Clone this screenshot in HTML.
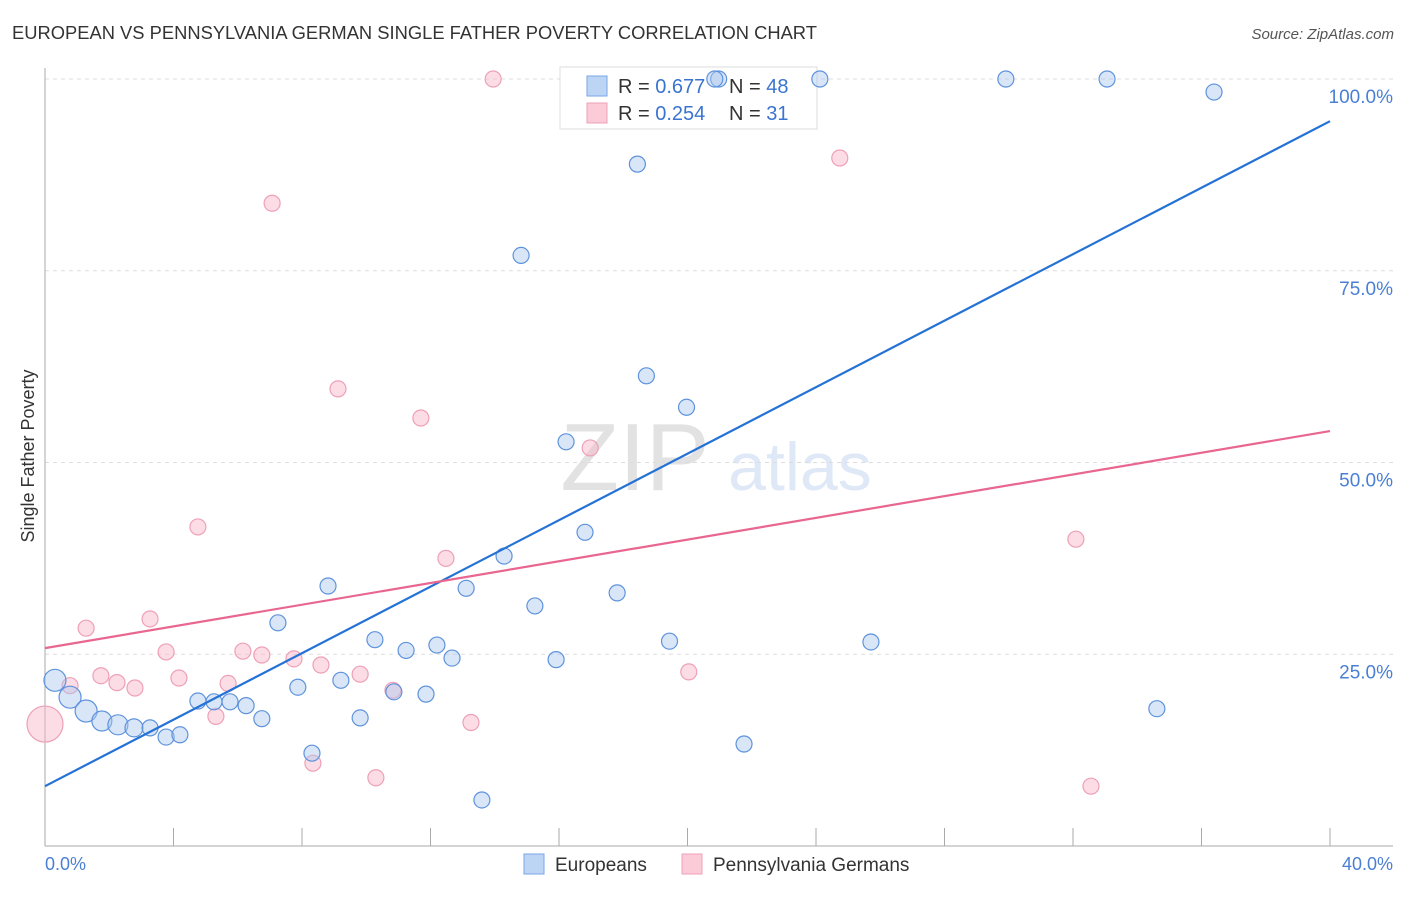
<!DOCTYPE html>
<html><head><meta charset="utf-8"><style>
body{margin:0;background:#fff;font-family:"Liberation Sans",sans-serif}
svg text{font-family:"Liberation Sans",sans-serif}
</style></head><body>
<svg width="1406" height="892" viewBox="0 0 1406 892">
<text x="12" y="39" font-size="18.35" fill="#333">EUROPEAN VS PENNSYLVANIA GERMAN SINGLE FATHER POVERTY CORRELATION CHART</text>
<text x="1394" y="39" font-size="15" fill="#555" text-anchor="end" font-style="italic">Source: ZipAtlas.com</text>
<text x="635" y="490" font-size="96" fill="#e2e2e2" font-family="Liberation Serif" text-anchor="middle">ZIP</text>
<text x="800" y="490" font-size="68" fill="#dfe8f6" text-anchor="middle">atlas</text>
<g id="grid"></g>
<g id="axes"></g>
<g>
<rect x="560" y="67" width="257" height="62" fill="#fff" stroke="#ddd"/>
<rect x="587" y="76" width="20" height="20" fill="#bcd5f5" stroke="#7aa6e6"/>
<rect x="587" y="103" width="20" height="20" fill="#fbcbd8" stroke="#eea0b6"/>
<text x="618" y="93" font-size="20" fill="#333">R = <tspan fill="#3a74d0">0.677</tspan></text>
<text x="729" y="93" font-size="20" fill="#333">N = <tspan fill="#3a74d0">48</tspan></text>
<text x="618" y="120" font-size="20" fill="#333">R = <tspan fill="#3a74d0">0.254</tspan></text>
<text x="729" y="120" font-size="20" fill="#333">N = <tspan fill="#3a74d0"> 31</tspan></text>
</g>
<g id="points"></g>
<g id="lines"></g>
<text transform="translate(34,456) rotate(-90)" font-size="18" fill="#333" text-anchor="middle">Single Father Poverty</text>
<text x="45" y="870" font-size="18" fill="#4a7fd4">0.0%</text>
<text x="1393" y="870" font-size="18" fill="#4a7fd4" text-anchor="end">40.0%</text>
<g>
<rect x="524" y="854" width="20" height="20" fill="#bcd5f5" stroke="#7aa6e6"/>
<text x="555" y="871" font-size="19" fill="#333">Europeans</text>
<rect x="682" y="854" width="20" height="20" fill="#fbcbd8" stroke="#eea0b6"/>
<text x="713" y="871" font-size="19" fill="#333">Pennsylvania Germans</text>
</g>
</svg>
<script>
const yTicks=[25,50,75,100];
const yTickLabels=["25.0%","50.0%","75.0%","100.0%"];
const xTicks=[0,4,8,12,16,20,24,28,32,36,40];
const euroX=[0.31,0.78,1.28,1.77,2.27,2.77,3.27,3.77,4.20,4.76,5.26,5.76,6.26,6.75,7.25,7.87,8.31,8.81,9.21,9.81,10.27,10.86,11.24,11.86,12.20,12.67,13.11,13.60,14.29,14.82,15.25,15.91,16.22,16.81,17.81,18.44,18.72,19.44,19.97,20.97,21.76,24.12,25.71,29.91,33.06,34.61,36.39,20.85];
const euroY=[21.6,19.4,17.6,16.3,15.8,15.4,15.4,14.2,14.5,18.9,18.8,18.8,18.3,16.6,29.1,20.7,12.1,33.9,21.6,16.7,26.9,20.1,25.5,19.8,26.2,24.5,33.6,6.0,37.8,77.0,31.3,24.3,52.7,40.9,33.0,88.9,61.3,26.7,57.2,100,13.3,100,26.6,100,100,17.9,98.3,100];
const euroW=[11,11,11,10,10,9,8,8,8,8,8,8,8,8,8,8,8,8,8,8,8,8,8,8,8,8,8,8,8,8,8,8,8,8,8,8,8,8,8,8,8,8,8,8,8,8,8,8];
const paX=[0.0,0.78,1.28,1.74,2.24,2.80,3.27,3.77,4.17,4.76,5.32,5.70,6.16,6.75,7.07,7.75,8.34,8.59,9.12,9.81,10.30,10.83,11.70,12.48,13.26,13.95,16.97,20.04,24.74,32.09,32.56];
const paY=[15.9,20.9,28.4,22.2,21.3,20.6,29.6,25.3,21.9,41.6,16.9,21.2,25.4,24.9,83.8,24.4,10.8,23.6,59.6,22.4,8.9,20.3,55.8,37.5,16.1,100,51.9,22.7,89.7,40.0,7.8];
const paW=[18,8,8,8,8,8,8,8,8,8,8,8,8,8,8,8,8,8,8,8,8,8,8,8,8,8,8,8,8,8,8];
const euroTrend=[7.8,94.5];
const paTrend=[25.8,54.1];
const NS="http://www.w3.org/2000/svg";
const X=v=>45+v/40*1285, Y=v=>846-v/100*767;
function mk(t,a,p){const e=document.createElementNS(NS,t);for(const k in a)e.setAttribute(k,a[k]);p.appendChild(e);return e;}
const grid=document.getElementById('grid'),axes=document.getElementById('axes'),pts=document.getElementById('points'),lines=document.getElementById('lines');
const topGrid=mk('line',{x1:45,x2:1393,y1:79,y2:79,stroke:'#ddd','stroke-dasharray':'4,4'},grid);


yTicks.forEach((t,i)=>{
 const l=mk('line',{x1:45,x2:1393,y1:Y(t),y2:Y(t),stroke:'#ddd','stroke-dasharray':'4,4'},grid);
 
 
 const tx=mk('text',{x:1393,y:Y(t)+24,'font-size':19,fill:'#4a7fd4','text-anchor':'end'},axes);
 tx.textContent=yTickLabels[i];
 
 
});
const ya=mk('line',{x1:45,x2:45,y1:68,y2:846,stroke:'#aaa'},axes);


const xa=mk('line',{x1:45,x2:1393,y1:846,y2:846,stroke:'#aaa'},axes);


xTicks.forEach(t=>{
 const l=mk('line',{x1:X(t),x2:X(t),y1:828,y2:846,stroke:'#aaa'},axes);
 
 
});
paX.forEach((v,i)=>{
 const c=mk('circle',{cx:X(v),cy:Y(paY[i]),r:paW[i],fill:'rgba(248,180,200,0.45)',stroke:'#eea0b6','stroke-width':1.2},pts);
 
 
});
euroX.forEach((v,i)=>{
 const c=mk('circle',{cx:X(v),cy:Y(euroY[i]),r:euroW[i],fill:'rgba(170,200,240,0.45)',stroke:'#5e93dc','stroke-width':1.2},pts);
 
 
});
const bl=mk('line',{x1:X(0),y1:Y(euroTrend[0]),x2:X(40),y2:Y(euroTrend[1]),stroke:'#2472d6','stroke-width':2.2},lines);


const pl=mk('line',{x1:X(0),y1:Y(paTrend[0]),x2:X(40),y2:Y(paTrend[1]),stroke:'#e8668f','stroke-width':2.2},lines);


</script>
</body></html>
